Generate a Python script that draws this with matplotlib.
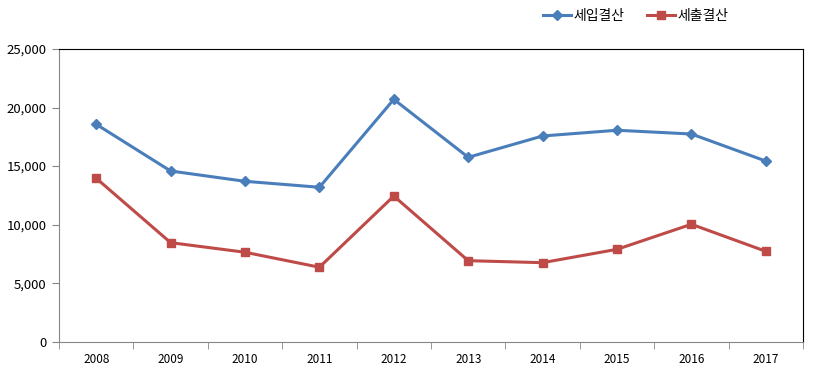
import matplotlib
matplotlib.use('Agg')
import matplotlib.pyplot as plt
from matplotlib.ticker import FuncFormatter, FixedLocator

plt.rcParams['font.family'] = ['Noto Sans CJK KR', 'DejaVu Sans']

years = ['2008', '2009', '2010', '2011', '2012', '2013', '2014', '2015', '2016', '2017']
revenue = [18570, 14580, 13700, 13190, 20700, 15750, 17570, 18060, 17740, 15430]
expense = [13960, 8460, 7640, 6360, 12440, 6920, 6750, 7890, 10030, 7720]
series_names = ['세입결산', '세출결산']

fig = plt.figure(figsize=(8.16, 3.73), dpi=100)
ax = fig.add_axes([59 / 816, 31.3 / 373, 744 / 816, 292.7 / 373])

x = list(range(len(years)))
ax.plot(x, revenue, color='#4a7ebb', lw=2.2, marker='D', ms=5, label=series_names[0])
ax.plot(x, expense, color='#be4b48', lw=2.2, marker='s', ms=6, label=series_names[1])

ax.set_xlim(-0.5, len(years) - 0.5)
ax.set_ylim(0, 25000)
ax.set_yticks(range(0, 25001, 5000))
ax.yaxis.set_major_formatter(FuncFormatter(lambda v, p: f'{int(v):,}'))
ax.set_xticks(x)
ax.set_xticklabels(years)
ax.xaxis.set_minor_locator(FixedLocator([i - 0.5 for i in range(len(years) + 1)]))
ax.tick_params(axis='x', which='major', length=0, pad=8, labelsize=8.5)
ax.tick_params(axis='x', which='minor', length=5, direction='out', color='#868686')
ax.tick_params(axis='y', length=5, direction='out', color='#868686', labelsize=9.5, pad=4)

for side in ['left', 'bottom']:
    ax.spines[side].set_color('#868686')
for side in ['top', 'right']:
    ax.spines[side].set_color('black')

ax.legend(loc='center', bbox_to_anchor=(636 / 816, 1 - 16 / 373), bbox_transform=fig.transFigure,
          ncol=2, frameon=False, fontsize=10, handlelength=2.0, columnspacing=1.6,
          handletextpad=0.2)

fig.savefig('out.png', dpi=100)
